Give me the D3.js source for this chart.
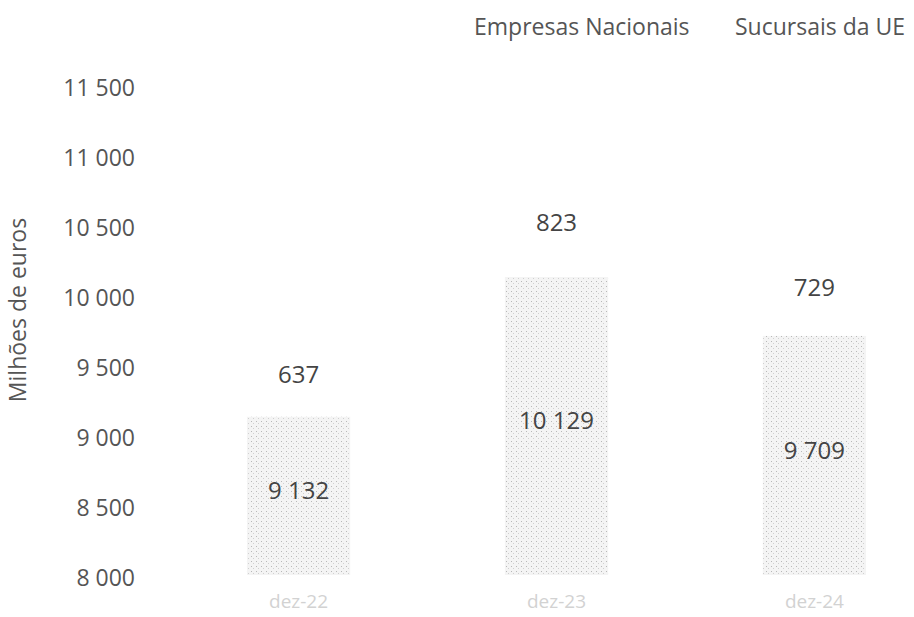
<!DOCTYPE html>
<html><head><meta charset="utf-8">
<script src="https://cdn.jsdelivr.net/npm/d3@7"></script>
<style>
body{margin:0;background:#fff;}
text{font-family:"Open Sans",sans-serif;}
</style></head>
<body><svg id="c" width="914" height="617"></svg>
<script>
const categories = ["dez-22","dez-23","dez-24"];
const nacionais = [9132, 10129, 9709];
const sucursais = [637, 823, 729];
const seriesNames = ["Empresas Nacionais","Sucursais da UE"];
const yTicks = [8000,8500,9000,9500,10000,10500,11000,11500];
const yTitle = "Milhões de euros";

const svg = d3.select("#c");
const defs = svg.append("defs");
const pat = defs.append("pattern").attr("id","stip").attr("patternUnits","userSpaceOnUse")
  .attr("width",5).attr("height",5);
pat.append("rect").attr("width",5).attr("height",5).attr("fill","#f4f4f4");
pat.append("rect").attr("x",1).attr("y",1).attr("width",1).attr("height",1).attr("fill","#b8b8b8");
pat.append("rect").attr("x",3).attr("y",3).attr("width",1).attr("height",1).attr("fill","#d0d0d0");

const x = d3.scaleBand().domain(categories).range([199,914]).paddingInner(0.6).paddingOuter(0.186);
const y = d3.scaleLinear().domain([8000,11500]).range([575,85]);

const fmt = v => d3.format(",")(v).replace(/,/g," ");

// y axis
const yAxis = d3.axisLeft(y).tickValues(yTicks).tickFormat(fmt).tickSize(0).tickPadding(0);
const ga = svg.append("g").attr("transform","translate(135,3)").call(yAxis);
ga.select(".domain").remove();
ga.selectAll("text").attr("font-size",23).attr("fill","#555").attr("font-family","'Open Sans',sans-serif");

svg.append("text").attr("transform","translate(26,310) rotate(-90)").attr("text-anchor","middle")
  .attr("font-size",23).attr("fill","#555").text(yTitle);

// x axis
const xAxis = d3.axisBottom(x).tickSize(0).tickPadding(0);
const gx = svg.append("g").attr("transform","translate(0,594)").call(xAxis);
gx.select(".domain").remove();
gx.selectAll("text").attr("font-size",19).attr("fill","#d2d2d2").attr("font-family","'Open Sans',sans-serif");

// stacked bars
const rows = categories.map((c,i)=>({c, a:nacionais[i], b:sucursais[i]}));
const g = svg.append("g");
g.selectAll(".b1").data(rows).join("rect").attr("class","b1")
  .attr("x",d=>x(d.c)).attr("width",x.bandwidth())
  .attr("y",d=>y(d.a)).attr("height",d=>y(8000)-y(d.a)).attr("fill","url(#stip)");
g.selectAll(".b2").data(rows).join("rect").attr("class","b2")
  .attr("x",d=>x(d.c)).attr("width",x.bandwidth())
  .attr("y",d=>y(d.a+d.b)).attr("height",d=>y(d.a)-y(d.a+d.b)).attr("fill","#ffffff");

g.selectAll(".l1").data(rows).join("text").attr("class","l1")
  .attr("x",d=>x(d.c)+x.bandwidth()/2).attr("y",d=>(y(8000)+y(d.a))/2-5)
  .attr("dy","0.35em").attr("text-anchor","middle").attr("font-size",24).attr("fill","#444")
  .text(d=>fmt(d.a));
g.selectAll(".l2").data(rows).join("text").attr("class","l2")
  .attr("x",d=>x(d.c)+x.bandwidth()/2).attr("y",d=>(y(d.a)+y(d.a+d.b))/2+3)
  .attr("dy","0.35em").attr("text-anchor","middle").attr("font-size",24).attr("fill","#444")
  .text(d=>fmt(d.b));

// legend
const legX = [474, 735];
svg.selectAll(".leg").data(seriesNames).join("text").attr("class","leg")
  .attr("x",(d,i)=>legX[i]).attr("y",35).attr("font-size",23).attr("fill","#555").text(d=>d);
</script></body></html>
